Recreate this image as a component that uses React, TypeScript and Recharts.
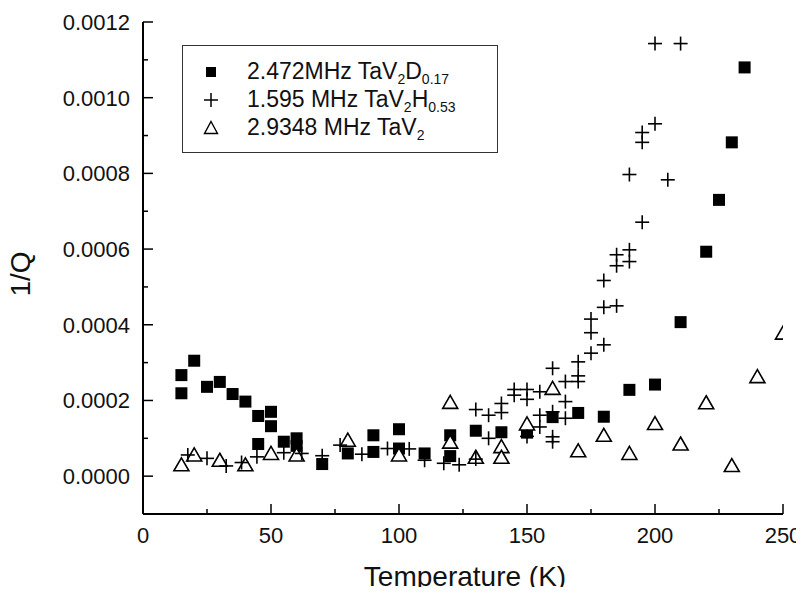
import React from 'react';
import { ScatterChart, Scatter, XAxis, YAxis, Legend, Label } from 'recharts';

const FONT = '"Liberation Sans", Arial, Helvetica, sans-serif';

// 2.472MHz TaV2D0.17 (filled squares)
const tempD = [15, 15, 20, 25, 30, 35, 40, 45, 45, 50, 50, 55, 60, 60, 70, 80, 90, 90, 100, 100, 110, 120, 120, 130, 140, 150, 160, 170, 180, 190, 200, 210, 220, 225, 230, 235];
const invQD = [0.000267, 0.000219, 0.000305, 0.000236, 0.000249, 0.000217, 0.000197, 0.000159, 0.000085, 0.00017, 0.000132, 0.000091, 0.0001, 0.00008, 0.000032, 0.00006, 0.000108, 0.000064, 0.000124, 0.000073, 0.00006, 0.000108, 0.000053, 0.00012, 0.000116, 0.000115, 0.000156, 0.000167, 0.000157, 0.000228, 0.000242, 0.000407, 0.000593, 0.00073, 0.000882, 0.00108];

// 1.595 MHz TaV2H0.53 (crosses)
const tempH = [17.5, 25, 32.5, 38.5, 44.5, 55, 62, 70, 77, 85.5, 95.5, 104, 110, 117.5, 123.5, 130, 130, 135, 135, 140, 140, 145, 145, 150, 150, 150, 155, 155, 155, 160, 160, 160, 160, 165, 165, 165, 170, 170, 170, 175, 175, 175, 180, 180, 180, 185, 185, 185, 190, 190, 190, 195, 195, 195, 200, 200, 205, 210];
const invQH = [0.000056, 0.000047, 0.000027, 0.000036, 0.000051, 0.000062, 0.00006, 0.000054, 0.000082, 0.000058, 0.000073, 0.000072, 0.000042, 0.000034, 0.00003, 0.000176, 0.000045, 0.000161, 0.0001, 0.000192, 0.000168, 0.000229, 0.000214, 0.000229, 0.000203, 0.000105, 0.000223, 0.000161, 0.00013, 0.000285, 0.00017, 0.000104, 0.000091, 0.00025, 0.000197, 0.000153, 0.000302, 0.000265, 0.00025, 0.000415, 0.000379, 0.000325, 0.000517, 0.000446, 0.000347, 0.000585, 0.000556, 0.00045, 0.000797, 0.000598, 0.000567, 0.000908, 0.000882, 0.000671, 0.001143, 0.000931, 0.000783, 0.001143];

// 2.9348 MHz TaV2 (open triangles)
const tempT = [15, 20, 30, 40, 50, 60, 80, 100, 120, 120, 130, 140, 140, 150, 160, 170, 180, 190, 200, 210, 220, 230, 240, 250];
const invQT = [0.00003, 0.000056, 0.000042, 0.00003, 0.00006, 0.000056, 0.000095, 0.000056, 0.000195, 0.00009, 0.00005, 0.000078, 0.00005, 0.000138, 0.000232, 0.000067, 0.000108, 0.00006, 0.000139, 0.000085, 0.000194, 0.000028, 0.000263, 0.000378];

const xTicks = [0, 25, 50, 75, 100, 125, 150, 175, 200, 225, 250];
const xLabeled = [0, 50, 100, 150, 200, 250];
const yTicks = [-0.0001, 0, 0.0001, 0.0002, 0.0003, 0.0004, 0.0005, 0.0006, 0.0007, 0.0008, 0.0009, 0.001, 0.0011, 0.0012];
const yLabeled = ['0.0000', '0.0002', '0.0004', '0.0006', '0.0008', '0.0010', '0.0012'];

const toData = (t: number[], q: number[]) => t.map((v, i) => ({ t: v, q: q[i] }));
const dataD = toData(tempD, invQD);
const dataH = toData(tempH, invQH);
const dataT = toData(tempT, invQT);

const MAJOR = 10;
const MINOR = 5;
const TICK_FS = 22;

const isXMajor = (v: number) => xLabeled.includes(v);
const isYMajor = (v: number) => v >= 0 && yLabeled.includes(v.toFixed(4));

const BottomTick = (p: any) => {
  const { x, y, payload } = p;
  const v = payload.value;
  const major = isXMajor(v);
  return (
    <g>
      <line x1={x} x2={x} y1={y} y2={y - (major ? MAJOR : MINOR)} stroke="#000" strokeWidth={1.5} />
      {major && (
        <text x={x} y={y + 29} textAnchor="middle" fontSize={TICK_FS} fontFamily={FONT} fill="#111">
          {String(v)}
        </text>
      )}
    </g>
  );
};

const TopTick = (p: any) => {
  const { x, y, payload } = p;
  const major = isXMajor(payload.value);
  return <line x1={x} x2={x} y1={y} y2={y + (major ? MAJOR : MINOR)} stroke="#000" strokeWidth={1.5} />;
};

const LeftTick = (p: any) => {
  const { x, y, payload } = p;
  const v = payload.value;
  const major = isYMajor(v);
  return (
    <g>
      <line x1={x} x2={x + (major ? MAJOR : MINOR)} y1={y} y2={y} stroke="#000" strokeWidth={1.5} />
      {major && (
        <text x={x - 13} y={y + 8} textAnchor="end" fontSize={TICK_FS} fontFamily={FONT} fill="#111">
          {v.toFixed(4)}
        </text>
      )}
    </g>
  );
};

const RightTick = (p: any) => {
  const { x, y, payload } = p;
  const major = isYMajor(payload.value);
  return <line x1={x} x2={x - (major ? MAJOR : MINOR)} y1={y} y2={y} stroke="#000" strokeWidth={1.5} />;
};

const SquareShape = (p: any) => <rect x={p.cx - 6} y={p.cy - 6} width={12} height={12} fill="#000" />;
const CrossShape = (p: any) => (
  <g stroke="#000" strokeWidth={1.6}>
    <line x1={p.cx - 7} x2={p.cx + 7} y1={p.cy} y2={p.cy} />
    <line x1={p.cx} x2={p.cx} y1={p.cy - 7} y2={p.cy + 7} />
  </g>
);
const TriangleShape = (p: any) => (
  <path
    d={`M${p.cx},${p.cy - 7} L${p.cx + 7.5},${p.cy + 6} L${p.cx - 7.5},${p.cy + 6} Z`}
    fill="#fff"
    stroke="#000"
    strokeWidth={1.6}
  />
);

const sub = (s: string) => (
  <span style={{ fontSize: 14, lineHeight: '14px', position: 'relative', top: 5 }}>{s}</span>
);

const legendRows = [
  {
    sym: <rect x={3} y={3} width={10} height={10} fill="#000" />,
    text: <>2.472MHz TaV{sub('2')}D{sub('0.17')}</>,
  },
  {
    sym: (
      <g stroke="#000" strokeWidth={1.5}>
        <line x1={1} x2={15} y1={8} y2={8} />
        <line x1={8} x2={8} y1={1} y2={15} />
      </g>
    ),
    text: <>1.595 MHz TaV{sub('2')}H{sub('0.53')}</>,
  },
  {
    sym: <path d="M8,1.5 L14.5,13.5 L1.5,13.5 Z" fill="#fff" stroke="#000" strokeWidth={1.4} />,
    text: <>2.9348 MHz TaV{sub('2')}</>,
  },
];

const LegendBox = () => (
  <div
    style={{
      width: 316,
      height: 108,
      border: '1px solid #333',
      boxSizing: 'border-box',
      background: '#fff',
      position: 'relative',
      fontFamily: FONT,
      fontSize: 23,
      color: '#111',
    }}
  >
    {legendRows.map((r, i) => (
      <div key={i} style={{ position: 'absolute', left: 0, top: 12 + 28 * i, height: 28, width: '100%' }}>
        <svg style={{ position: 'absolute', left: 20, top: 6 }} width={16} height={16}>
          {r.sym}
        </svg>
        <span style={{ position: 'absolute', left: 64, top: -1, lineHeight: '28px', whiteSpace: 'nowrap' }}>{r.text}</span>
      </div>
    ))}
  </div>
);

const XTitle = (p: any) => {
  const vb = p.viewBox || {};
  return (
    <text x={vb.x + vb.width / 2 + 2} y={vb.y + 72} textAnchor="middle" fontSize={28} fontFamily={FONT} fill="#111">
      Temperature (K)
    </text>
  );
};

const YTitle = (p: any) => {
  const vb = p.viewBox || {};
  const cx = 30;
  const cy = vb.y + vb.height / 2 + 6;
  return (
    <text x={cx} y={cy} transform={`rotate(-90 ${cx} ${cy})`} textAnchor="middle" fontSize={28} fontFamily={FONT} fill="#111">
      1/Q
    </text>
  );
};

export default function App() {
  return (
    <div style={{ margin: -8 }}>
      <ScatterChart width={804} height={595} margin={{ top: 22, right: 21, bottom: 0, left: 0 }}>
        <XAxis
          xAxisId="b"
          dataKey="t"
          type="number"
          domain={[0, 250]}
          ticks={xTicks}
          interval={0}
          allowDataOverflow
          height={81}
          tickSize={0}
          tickMargin={0}
          tickLine={false}
          axisLine={{ stroke: '#000', strokeWidth: 2 }}
          tick={<BottomTick />}
        >
          <Label content={<XTitle />} />
        </XAxis>
        <XAxis
          xAxisId="top"
          orientation="top"
          dataKey="t"
          type="number"
          domain={[0, 250]}
          ticks={xTicks}
          interval={0}
          allowDataOverflow
          height={0}
          tickSize={0}
          tickMargin={0}
          tickLine={false}
          axisLine={{ stroke: '#000', strokeWidth: 2 }}
          tick={<TopTick />}
        />
        <YAxis
          yAxisId="l"
          dataKey="q"
          type="number"
          domain={[-0.0001, 0.0012]}
          ticks={yTicks}
          interval={0}
          allowDataOverflow
          width={143}
          tickSize={0}
          tickMargin={0}
          tickLine={false}
          axisLine={{ stroke: '#000', strokeWidth: 2 }}
          tick={<LeftTick />}
        >
          <Label content={<YTitle />} />
        </YAxis>
        <YAxis
          yAxisId="r"
          orientation="right"
          dataKey="q"
          type="number"
          domain={[-0.0001, 0.0012]}
          ticks={yTicks}
          interval={0}
          allowDataOverflow
          width={0}
          tickSize={0}
          tickMargin={0}
          tickLine={false}
          axisLine={{ stroke: '#000', strokeWidth: 2 }}
          tick={<RightTick />}
        />
        <Scatter name="2.472MHz TaV2D0.17" data={dataD} xAxisId="b" yAxisId="l" shape={SquareShape} isAnimationActive={false} />
        <Scatter name="2.9348 MHz TaV2" data={dataT} xAxisId="b" yAxisId="l" shape={TriangleShape} isAnimationActive={false} />
        <Scatter name="1.595 MHz TaV2H0.53" data={dataH} xAxisId="b" yAxisId="l" shape={CrossShape} isAnimationActive={false} />
        <Legend
          layout="vertical"
          align="center"
          verticalAlign="middle"
          wrapperStyle={{ position: 'absolute', left: 182, top: 45, width: 316, height: 108 }}
          content={() => <LegendBox />}
        />
      </ScatterChart>
    </div>
  );
}
